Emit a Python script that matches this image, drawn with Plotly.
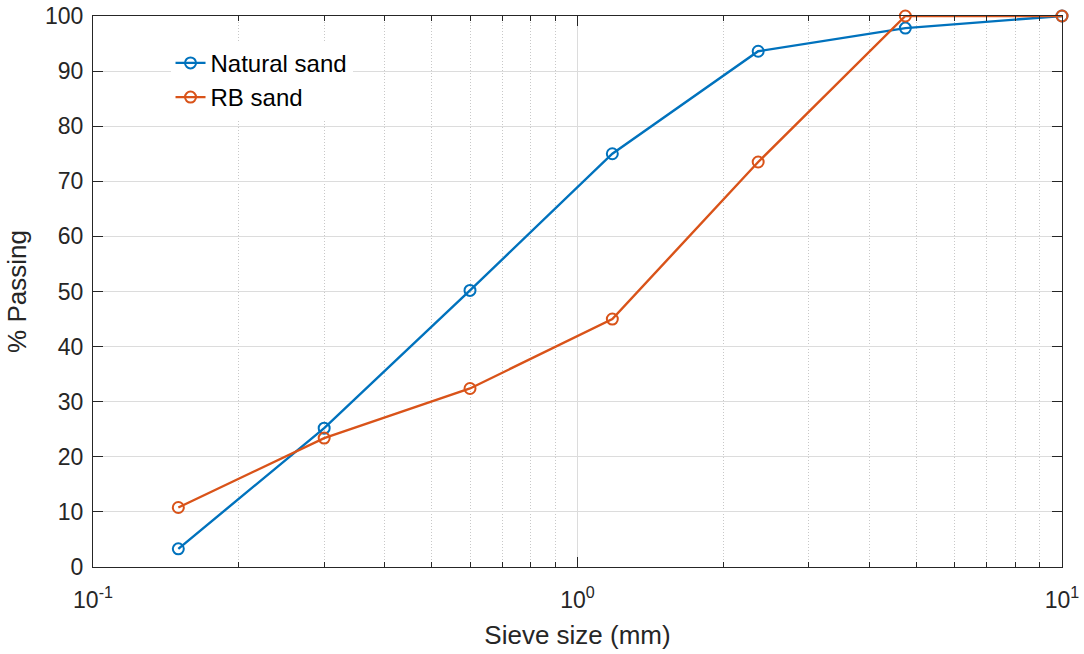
import plotly.graph_objects as go

sieve_mm = [0.15, 0.3, 0.6, 1.18, 2.36, 4.75, 10]
natural_sand = [3.3, 25.2, 50.2, 75.0, 93.6, 97.8, 100]
rb_sand = [10.8, 23.4, 32.4, 45.0, 73.5, 100, 100]

x_major = [0.1, 1, 10]
x_major_text = ["10<sup>-1</sup>", "10<sup>0</sup>", "10<sup>1</sup>"]
x_minor = [0.2, 0.3, 0.4, 0.5, 0.6, 0.7, 0.8, 0.9, 2, 3, 4, 5, 6, 7, 8, 9]

FONT = "Liberation Sans, Arial, sans-serif"
AX = "#262626"
BLUE = "#0072BD"
ORANGE = "#D95319"

fig = go.Figure()
fig.add_trace(go.Scatter(
    x=sieve_mm, y=natural_sand, name="Natural sand", mode="lines+markers",
    line=dict(color=BLUE, width=2.4), cliponaxis=False,
    marker=dict(symbol="circle-open", size=11, color=BLUE, line=dict(width=2)),
    legendgroup="a"))
fig.add_trace(go.Scatter(
    x=sieve_mm, y=rb_sand, name="RB sand", mode="lines+markers",
    line=dict(color=ORANGE, width=2.4), cliponaxis=False,
    marker=dict(symbol="circle-open", size=11, color=ORANGE, line=dict(width=2)),
    legendgroup="b"))

fig.update_layout(
    width=1084, height=654,
    margin=dict(l=93, r=22, t=16, b=87),
    paper_bgcolor="white", plot_bgcolor="white",
    font=dict(family=FONT, size=23, color=AX),
    showlegend=True,
    legend=dict(x=0.08, y=0.955, xanchor="left", yanchor="top",
                bgcolor="white", borderwidth=0,
                font=dict(size=24, color="black"),
                traceorder="grouped", tracegroupgap=0),
)
fig.update_xaxes(
    type="log", range=[-1, 1], automargin=False,
    tickvals=x_major, ticktext=x_major_text,
    ticks="inside", ticklen=10, tickwidth=1, tickcolor=AX,
    ticklabelstandoff=12,
    showline=True, linecolor=AX, linewidth=1, mirror="allticks",
    showgrid=True, gridcolor="#dcdcdc", gridwidth=1,
    minor=dict(tickvals=x_minor, ticks="inside", ticklen=5, tickcolor=AX,
               showgrid=True, gridcolor="#c8c8c8", griddash="1px,2px", gridwidth=1),
    title=dict(text="Sieve size (mm)", font=dict(size=26, color=AX), standoff=14),
    tickfont=dict(size=23, color=AX),
    zeroline=False,
)
fig.update_yaxes(
    range=[0, 100], dtick=10, tick0=0, automargin=False,
    ticks="inside", ticklen=10, tickwidth=1, tickcolor=AX,
    ticklabelstandoff=4,
    showline=True, linecolor=AX, linewidth=1, mirror="allticks",
    showgrid=True, gridcolor="#dcdcdc", gridwidth=1,
    title=dict(text="% Passing", font=dict(size=26, color=AX), standoff=10),
    tickfont=dict(size=23, color=AX),
    zeroline=False,
)

fig.write_html("out.html")
